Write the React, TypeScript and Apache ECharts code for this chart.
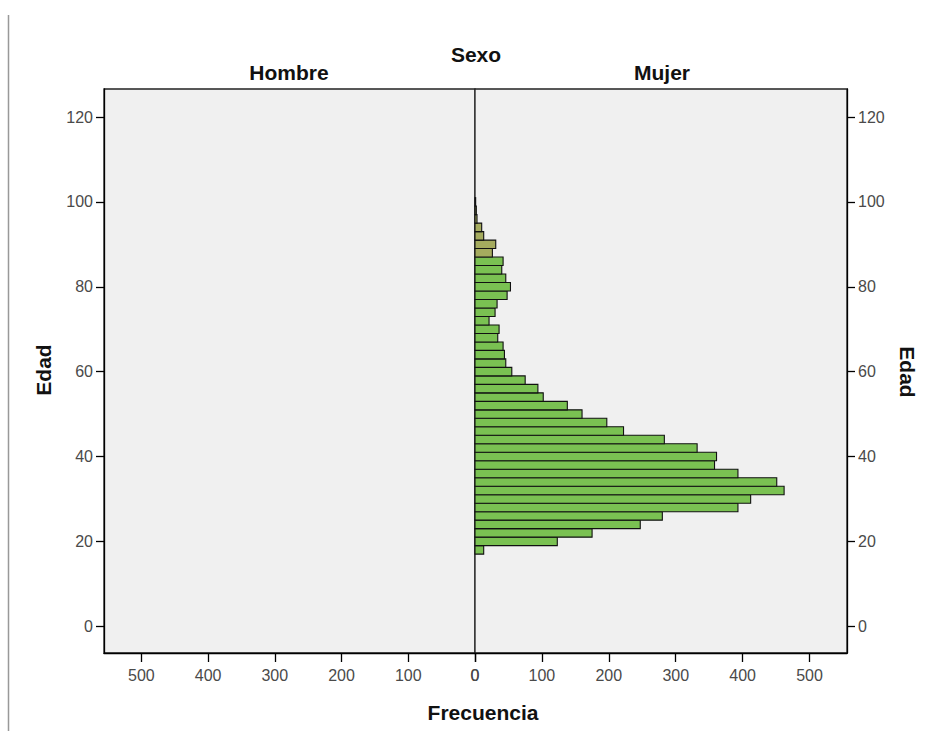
import React, { useEffect, useRef } from 'react';
import * as echarts from 'echarts';

// Age bin centres (2-year bins) and frequencies per sex
const ageCenters = [18, 20, 22, 24, 26, 28, 30, 32, 34, 36, 38, 40, 42, 44, 46, 48, 50, 52, 54, 56, 58, 60,
  62, 64, 66, 68, 70, 72, 74, 76, 78, 80, 82, 84, 86, 88, 90, 92, 94, 96, 98, 100];
const mujerCounts = [13, 123, 175, 247, 280, 393, 412, 462, 451, 393, 358, 361, 332, 283, 222, 197, 160, 138, 102, 94, 75, 55,
  46, 44, 42, 34, 36, 21, 30, 33, 48, 53, 46, 40, 42, 26, 31, 13, 10, 3, 2, 1];
const hombreCounts: number[] = [];
const panelNames = ['Hombre', 'Mujer'];
const yTicks = [0, 20, 40, 60, 80, 100, 120];
const xTicks = [0, 100, 200, 300, 400, 500];
const binWidth = 2;
const oliveFromAge = 87;

const FONT = '"Liberation Sans", Arial, sans-serif';

export default function App() {
  const ref = useRef<HTMLDivElement>(null);
  useEffect(() => {
    if (!ref.current) return;
    const chart = echarts.init(ref.current, null, { renderer: 'svg' });
    const green = '#7ac152';
    const olive = '#a5ab5e';

    const makeX = (grid: number, inverse: boolean) => ({
      type: 'value',
      gridIndex: grid,
      inverse,
      min: 0,
      max: 556,
      position: 'bottom',
      axisLine: { show: true, onZero: false, lineStyle: { color: '#000', width: 1.3 } },
      axisTick: { show: true, length: 9, customValues: xTicks, lineStyle: { color: '#000', width: 1.3 } },
      axisLabel: {
        customValues: xTicks, margin: 14, fontSize: 16, color: '#4a4a4a', fontFamily: FONT,
        formatter: (v: number) => (xTicks.includes(v) ? String(v) : ''),
      },
      splitLine: { show: false },
    });
    const makeY = (grid: number, pos: string) => ({
      type: 'value',
      gridIndex: grid,
      min: -6.3,
      max: 126.6,
      position: pos,
      axisLine: { show: true, onZero: false, lineStyle: { color: '#000', width: 1.3 } },
      axisTick: { show: true, length: 8, customValues: yTicks, lineStyle: { color: '#000', width: 1.3 } },
      axisLabel: {
        customValues: yTicks, margin: 11, fontSize: 16, color: '#4a4a4a', fontFamily: FONT,
        formatter: (v: number) => (yTicks.includes(v) ? String(v) : ''),
      },
      splitLine: { show: false },
    });

    const renderBar = (params: any, api: any) => {
      const age = api.value(0);
      const cnt = api.value(1);
      const p1 = api.coord([0, age + binWidth / 2]);
      const p2 = api.coord([cnt, age - binWidth / 2]);
      const x = Math.min(p1[0], p2[0]);
      const w = Math.abs(p2[0] - p1[0]);
      return {
        type: 'rect',
        shape: { x, y: p1[1], width: w, height: p2[1] - p1[1] },
        style: { fill: age >= oliveFromAge ? olive : green, stroke: '#111', lineWidth: 1.1 },
      };
    };

    const titleStyle = (text: string) => ({
      text,
      x: 0,
      y: 0,
      font: `bold 21px ${FONT}`,
      fill: '#111',
      textAlign: 'center',
      textVerticalAlign: 'middle',
      align: 'center',
      verticalAlign: 'middle',
    });

    chart.setOption({
      animation: false,
      backgroundColor: '#fff',
      grid: [
        { left: 104, top: 89, width: 371, height: 564, show: true, backgroundColor: '#f0f0f0', borderColor: '#222', borderWidth: 1.3 },
        { left: 475, top: 89, width: 372, height: 564, show: true, backgroundColor: '#f0f0f0', borderColor: '#222', borderWidth: 1.3 },
      ],
      xAxis: [makeX(0, true), makeX(1, false)],
      yAxis: [makeY(0, 'left'), makeY(1, 'right')],
      series: [
        {
          name: panelNames[0],
          type: 'custom',
          xAxisIndex: 0,
          yAxisIndex: 0,
          encode: { x: 1, y: 0 },
          renderItem: renderBar,
          data: hombreCounts.map((c, i) => [ageCenters[i], c]),
        },
        {
          name: panelNames[1],
          type: 'custom',
          xAxisIndex: 1,
          yAxisIndex: 1,
          encode: { x: 1, y: 0 },
          renderItem: renderBar,
          data: mujerCounts.map((c, i) => [ageCenters[i], c]),
        },
      ],
      graphic: [
        { type: 'line', shape: { x1: 8.5, y1: 15, x2: 8.5, y2: 731 }, style: { stroke: '#999', lineWidth: 1.5 } },
        { type: 'text', x: 476, y: 54, style: titleStyle('Sexo') },
        { type: 'text', x: 289, y: 72, style: titleStyle(panelNames[0]) },
        { type: 'text', x: 662, y: 72, style: titleStyle(panelNames[1]) },
        { type: 'text', x: 43, y: 370, rotation: Math.PI / 2, style: titleStyle('Edad') },
        { type: 'text', x: 907, y: 372, rotation: -Math.PI / 2, style: titleStyle('Edad') },
        { type: 'text', x: 483, y: 712, style: titleStyle('Frecuencia') },
      ],
    });
    return () => chart.dispose();
  }, []);
  return (
    <div
      ref={ref}
      style={{ position: 'fixed', left: 0, top: 0, width: 933, height: 731 }}
    />
  );
}
